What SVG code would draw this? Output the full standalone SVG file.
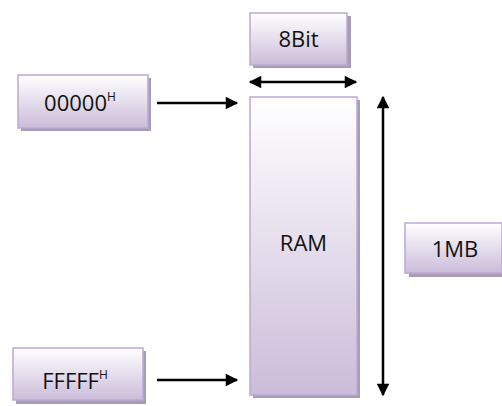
<svg xmlns="http://www.w3.org/2000/svg" width="502" height="406" viewBox="0 0 502 406">
<defs>
<linearGradient id="g" x1="0" y1="0" x2="0" y2="1">
<stop offset="0" stop-color="#ffffff"/>
<stop offset="1" stop-color="#cbbcd9"/>
</linearGradient>
<marker id="ah" viewBox="0 0 10 10" refX="9" refY="5" markerWidth="5.5" markerHeight="5" orient="auto-start-reverse" markerUnits="strokeWidth">
<path d="M0,0 L10,5 L0,10 Z" fill="#000"/>
</marker>
<style>
.box{fill:url(#g);stroke:#bba9d4;stroke-width:1.5}
.sh{fill:#a89eb3}
.t{font-family:"Open Sans","Liberation Sans",sans-serif;font-size:22px;fill:#111;text-anchor:middle}
.c{stroke:#000;stroke-width:2.5;fill:none}
</style>
</defs>
<g id="bit8">
<rect class="sh" x="253" y="16" width="98" height="52"/>
<rect class="box" x="250" y="13" width="97" height="52"/>
<text class="t" x="298.5" y="47">8Bit</text>
</g>
<g id="ram">
<rect class="sh" x="253" y="100" width="107" height="298"/>
<rect class="box" x="250" y="97" width="107" height="298"/>
<text class="t" x="303.5" y="251">RAM</text>
</g>
<g id="addr0">
<rect class="sh" x="21" y="78" width="130" height="53"/>
<rect class="box" x="18" y="75" width="130" height="53"/>
<text class="t" x="80" y="111">00000<tspan font-size="12" dy="-10">H</tspan></text>
</g>
<g id="addrF">
<rect class="sh" x="16" y="351" width="130" height="53"/>
<rect class="box" x="13" y="348" width="130" height="52"/>
<text class="t" x="75" y="389">FFFFF<tspan font-size="12" dy="-10">H</tspan></text>
</g>
<g id="mb1">
<rect class="sh" x="409" y="227" width="96" height="50"/>
<rect class="box" x="405" y="223" width="97" height="50"/>
<text class="t" x="455" y="257">1MB</text>
</g>
<g id="connectors">
<line class="c" x1="250" y1="82" x2="356" y2="82" marker-start="url(#ah)" marker-end="url(#ah)"/>
<line class="c" x1="157" y1="103" x2="237" y2="103" marker-end="url(#ah)"/>
<line class="c" x1="157" y1="380" x2="237" y2="380" marker-end="url(#ah)"/>
<line class="c" x1="383" y1="97" x2="383" y2="395" marker-start="url(#ah)" marker-end="url(#ah)"/>
</g>
</svg>
